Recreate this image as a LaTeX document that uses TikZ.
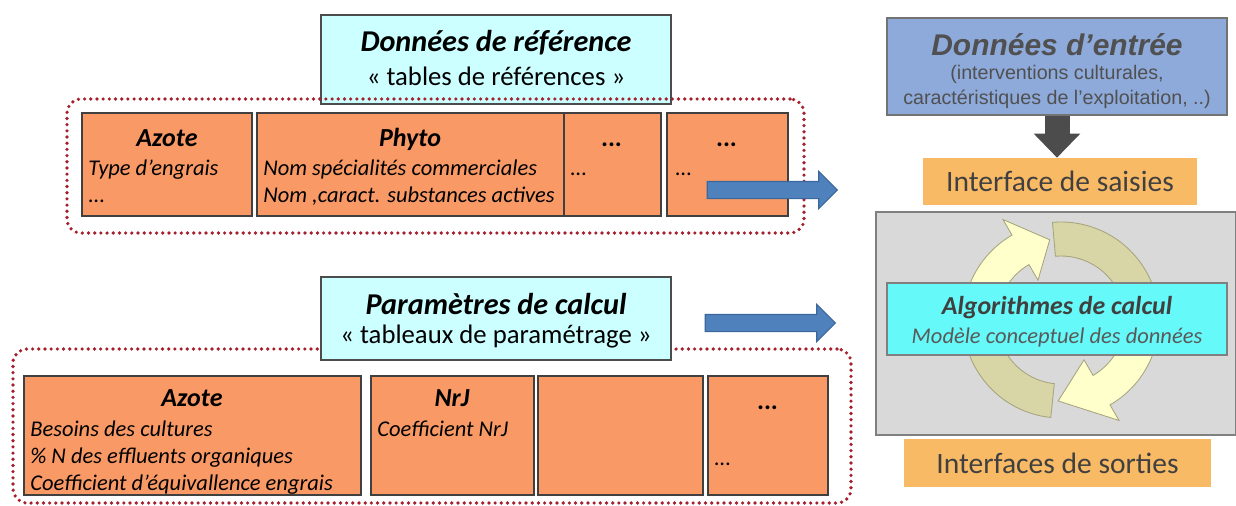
\documentclass[tikz,border=0pt]{standalone}
\usepackage{fontspec}
\setmainfont{Carlito}
\newfontfamily\arialfont{Liberation Sans}
\usetikzlibrary{positioning,fit,shapes.arrows,arrows.meta}

\definecolor{saumon}{HTML}{F99A66}
\definecolor{cielpale}{HTML}{CCFFFF}
\definecolor{cyanvif}{HTML}{66F9F9}
\definecolor{bleuentree}{HTML}{8EAADB}
\definecolor{orangeclair}{HTML}{F9BA66}
\definecolor{grisfond}{HTML}{D9D9D9}
\definecolor{pointille}{HTML}{A3202C}
\definecolor{bleufleche}{HTML}{4F81BD}
\definecolor{bleufonce}{HTML}{3A679C}
\definecolor{jaunepale}{HTML}{FFFFCC}
\definecolor{olive}{HTML}{D8D6A6}
\definecolor{olivefonce}{HTML}{A6A47C}
\definecolor{textegris}{HTML}{505050}

\begin{document}
\begin{tikzpicture}[x=0.025cm, y=-0.025cm,
    cadre/.style={draw=pointille, line width=2.6pt, dash pattern=on 0pt off 4.4pt, line cap=round, rounded corners=10pt, inner sep=0pt},
    tableau/.style={draw=black!75, line width=1pt, fill=saumon, inner sep=0pt},
    entete/.style={draw=black!70, line width=1pt, fill=cielpale, inner sep=0pt},
    titre/.style={font=\fontsize{18.5}{20}\selectfont\bfseries\itshape, anchor=base, inner sep=0pt},
    ligne/.style={font=\fontsize{16}{18}\selectfont\itshape, anchor=base west, inner sep=0pt},
    grandtitre/.style={font=\fontsize{21.5}{24}\selectfont\bfseries\itshape, inner sep=0pt},
    soustitre/.style={font=\fontsize{19}{22}\selectfont, inner sep=0pt},
    flechebleue/.style={single arrow, draw=bleufonce, line width=0.8pt, fill=bleufleche, minimum height=3.25cm, single arrow head extend=0.25cm, inner xsep=0pt, inner ysep=0.2cm},
    interface/.style={fill=orangeclair, inner sep=0pt, font=\fontsize{21}{24}\selectfont, text=black!75},
  ]
  \useasboundingbox (0,0) rectangle (1236,506);

  % Donnees de reference
  \node[entete, fit={(321,15) (671,104)}] (donneesRef) {};
  \node[grandtitre] (donneesRefT) at (496,43) {Données de référence};
  \node[soustitre] (donneesRefS) at (496,76) {« tables de références »};
  \node[cadre, fit={(67,99) (804,233)}] (cadreRef) {};

  % Tables de references
  \node[tableau, fit={(82,113) (252,216)}] (azoteRef) {};
  \node[tableau, fit={(257,113) (564,216)}] (phytoRef) {};
  \node[tableau, fit={(564,113) (661,216)}] (autreRef) {};
  \node[tableau, fit={(667,113) (788,216)}] (autreRefB) {};

  \node[titre] (azoteRefT) at (167,146) {Azote};
  \node[ligne] (azoteRefA) at (88,175) {Type d’engrais};
  \node[ligne] (azoteRefB) at (88,202) {...};
  \node[titre] (phytoRefT) at (410,146) {Phyto};
  \node[ligne] (phytoRefA) at (263,175) {Nom spécialités commerciales};
  \node[ligne] (phytoRefB) at (263,202) {Nom ,caract. substances actives};
  \node[titre] (autreRefT) at (612,146) {...};
  \node[ligne] (autreRefA) at (570,175) {...};
  \node[titre] (autreRefBT) at (727,146) {...};
  \node[ligne] (autreRefBA) at (675,175) {...};

  \node[flechebleue] (flecheRef) at (768,190) {};

  % Parametres de calcul
  \node[cadre, fit={(13,349) (851,503)}] (cadreParam) {};
  \node[entete, fit={(321,277) (671,360)}] (paramCalc) {};
  \node[grandtitre] (paramCalcT) at (496,304) {Paramètres de calcul};
  \node[soustitre] (paramCalcS) at (496,337) {« tableaux de paramétrage »};

  \node[tableau, fit={(24,376) (361,495)}] (azoteParam) {};
  \node[tableau, fit={(371,376) (534,495)}] (nrjParam) {};
  \node[tableau, fit={(538,376) (703,495)}] (videParam) {};
  \node[tableau, fit={(708,376) (828,495)}] (autreParam) {};

  \node[titre] (azoteParamT) at (192,406) {Azote};
  \node[ligne] (azoteParamA) at (30,436) {Besoins des cultures};
  \node[ligne] (azoteParamB) at (30,463) {\% N des effluents organiques};
  \node[ligne] (azoteParamC) at (30,490) {Coefficient d’équivallence engrais};
  \node[titre] (nrjParamT) at (452,406) {NrJ};
  \node[ligne] (nrjParamA) at (377,436) {Coefficient NrJ};
  \node[titre] (autreParamT) at (768,409) {...};
  \node[ligne] (autreParamA) at (714,465) {...};

  \node[flechebleue] (flecheParam) at (766,323) {};

  % Donnees d'entree et interfaces
  \node[draw=black!55, line width=1pt, fill=bleuentree, inner sep=0pt, fit={(887,18) (1227,115)}] (entree) {};
  \node[font=\arialfont\fontsize{21.3}{24}\selectfont\bfseries\itshape, text=textegris, inner sep=0pt] (entreeT) at (1057,45) {Données d’entrée};
  \node[font=\arialfont\fontsize{14}{16}\selectfont, text=textegris, inner sep=0pt] (entreeA) at (1057,74) {(interventions culturales,};
  \node[font=\arialfont\fontsize{14}{16}\selectfont, text=textegris, inner sep=0pt] (entreeB) at (1057,99) {caractéristiques de l’exploitation, ..)};

  \node[interface, minimum width=6.85cm, minimum height=1.175cm] (saisies) at (1060,181.5) {Interface de saisies};
  \draw[draw=black!70, line width=0.625cm, -{Triangle[width=1.125cm, length=0.6cm]}] (entree.south -| entreeT.south) -- (entreeT.south |- saisies.north);

  % Moteur de calcul
  \node[draw=black!50, line width=1pt, fill=grisfond, inner sep=0pt, fit={(876,212) (1236,435)}] (moteur) {};
  \begin{scope}[shift={(1061,320)}, draw=olivefonce, line width=0.6pt]
    \filldraw[fill=olive] (96:98) arc[start angle=96, end angle=180, radius=98] -- (180:64) arc[start angle=180, end angle=96, radius=64] -- cycle;
    \filldraw[fill=olive] (265:98) arc[start angle=265, end angle=360, radius=98] -- (0:64) arc[start angle=360, end angle=265, radius=64] -- cycle;
    \filldraw[fill=jaunepale] (180:98) arc[start angle=180, end angle=240, radius=98] -- (240:116) -- (262:81) -- (240:46) -- (240:64) arc[start angle=240, end angle=180, radius=64] -- cycle;
    \filldraw[fill=jaunepale] (0:98) arc[start angle=0, end angle=60, radius=98] -- (60:116) -- (92:81) -- (60:46) -- (60:64) arc[start angle=60, end angle=0, radius=64] -- cycle;
  \end{scope}
  \node[draw=black!50, line width=1pt, fill=cyanvif, inner sep=0pt, fit={(887,283) (1227,355)}] (algo) {};
  \node[font=\fontsize{18.4}{20}\selectfont\bfseries\itshape, text=black!75, inner sep=0pt] (algoT) at (1057,308) {Algorithmes de calcul};
  \node[font=\fontsize{16}{18}\selectfont\itshape, text=black!65, inner sep=0pt] (algoS) at (1057,337) {Modèle conceptuel des données};

  \node[interface, minimum width=7.675cm, minimum height=1.2cm] (sorties) at (1057.5,463) {Interfaces de sorties};
\end{tikzpicture}
\end{document}
